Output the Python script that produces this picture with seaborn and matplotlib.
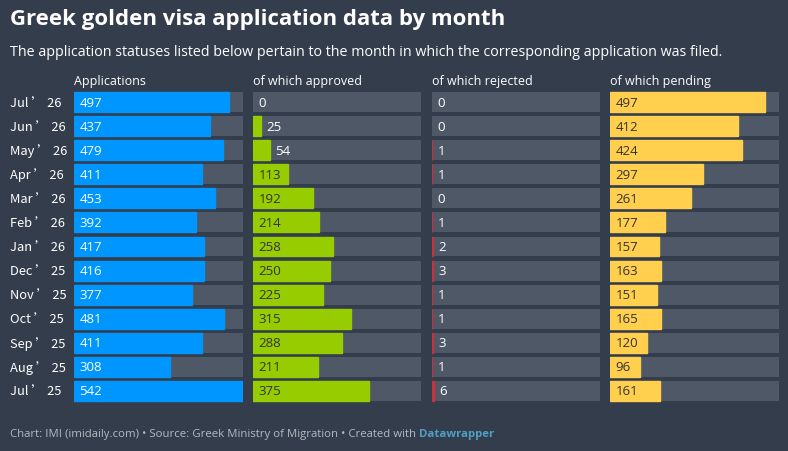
import matplotlib
matplotlib.use("Agg")
import matplotlib.pyplot as plt
import seaborn as sns
import pandas as pd

# values
months = ["Jul ’ 26", "Jun ’ 26", "May ’ 26", "Apr ’ 26", "Mar ’ 26", "Feb ’ 26", "Jan ’ 26",
          "Dec ’ 25", "Nov ’ 25", "Oct ’ 25", "Sep ’ 25", "Aug ’ 25", "Jul ’ 25"]
applications = [497, 437, 479, 411, 453, 392, 417, 416, 377, 481, 411, 308, 542]
approved = [0, 25, 54, 113, 192, 214, 258, 250, 225, 315, 288, 211, 375]
rejected = [0, 0, 1, 1, 0, 1, 2, 3, 1, 1, 3, 1, 6]
pending = [497, 412, 424, 297, 261, 177, 157, 163, 151, 165, 120, 96, 161]
headers = ["Applications", "of which approved", "of which rejected", "of which pending"]

BG = "#343d4c"
TRACK = "#4f5866"
colors = ["#0096ff", "#96cc00", "#c9323d", "#ffcf4d"]
label_colors = ["white", "#333333", "white", "#333333"]
scale_max = max(applications)

sns.set_theme(style="white")
plt.rcParams["font.family"] = ["Open Sans", "DejaVu Sans"]

W, H = 788, 452
fig = plt.figure(figsize=(W / 100, H / 100), dpi=100, facecolor=BG)

cols = [(74, 243), (253, 421), (432, 600), (610, 779)]
top, bottom = 91, 404
series = [applications, approved, rejected, pending]

for (x0, x1), vals, col, lcol, head in zip(cols, series, colors, label_colors, headers):
    ax = fig.add_axes([x0 / W, 1 - bottom / H, (x1 - x0) / W, (bottom - top) / H])
    ax.set_facecolor(BG)
    df = pd.DataFrame({"month": months, "value": vals, "track": [scale_max] * len(months)})
    sns.barplot(data=df, y="month", x="track", color=TRACK, width=0.83, orient="h",
                ax=ax, saturation=1, linewidth=0)
    sns.barplot(data=df, y="month", x="value", color=col, width=0.83, orient="h",
                ax=ax, saturation=1, linewidth=0)
    n = len(months)
    for p in ax.patches[n:]:
        if p.get_width() > 0:
            p.set_edgecolor(col)
            p.set_linewidth(1.0)
    ax.set_xlim(0, scale_max)
    ax.set_ylim(n - 0.5, -0.5)
    ax.axis("off")
    px_per_val = (x1 - x0) / scale_max
    for i, v in enumerate(vals):
        txt = str(v)
        bar_px = v * px_per_val
        need = 8 * len(txt) + 10
        if bar_px >= need:
            ax.annotate(txt, (0, i), xytext=(4, 0), textcoords="offset points",
                        va="center", ha="left", fontsize=9.5, color=lcol)
        else:
            ax.annotate(txt, (v, i), xytext=(4, 0), textcoords="offset points",
                        va="center", ha="left", fontsize=9.5, color="white")
    fig.text(x0 / W, 1 - 81 / H, head, fontsize=9, color="white", va="center", ha="left")

# month labels
row_pitch = (bottom - top) / len(months)
for i, m in enumerate(months):
    y = top + row_pitch * (i + 0.5)
    fig.text(10 / W, 1 - y / H, m, fontsize=9.3, color="white", va="center", ha="left",
             fontweight="medium", family=["Noto Sans CJK SC", "DejaVu Sans"])

fig.text(10 / W, 1 - 20 / H, "Greek golden visa application data by month", fontsize=16,
         fontweight="bold", color="white", va="center", ha="left")
fig.text(10 / W, 1 - 53 / H,
         "The application statuses listed below pertain to the month in which the corresponding application was filed.",
         fontsize=10.3, color="white", va="center", ha="left")

foot = fig.text(10 / W, 1 - 435 / H,
                "Chart: IMI (imidaily.com) • Source: Greek Ministry of Migration • Created with ",
                fontsize=8.2, color="#b4bac3", va="center", ha="left")
fig.canvas.draw()
bb = foot.get_window_extent()
fig.text(bb.x1 / W, 1 - 435 / H, "Datawrapper", fontsize=8.2, color="#4f9fc4",
         fontweight="bold", va="center", ha="left")

fig.savefig("out.png", dpi=100, facecolor=BG)
